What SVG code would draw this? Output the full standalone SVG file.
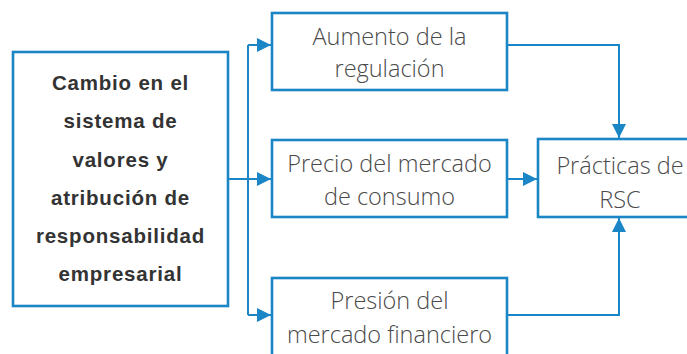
<svg xmlns="http://www.w3.org/2000/svg" width="687" height="354" viewBox="0 0 687 354">
<defs>
<style>
.box{fill:#fff;stroke:#1a86c5;stroke-width:2.6}
.c{fill:none;stroke:#1a86c5;stroke-width:2}
.b{font-family:"Liberation Sans",Arial,sans-serif;font-weight:bold;font-size:20.5px;fill:#333;text-anchor:middle;letter-spacing:0.8px}
.t{font-family:"Open Sans","Liberation Sans",sans-serif;font-size:23.5px;fill:#4a4a4a;text-anchor:middle;font-weight:300}
</style>
<marker id="ah" viewBox="0 0 10 10" refX="10" refY="5" markerWidth="14" markerHeight="14" markerUnits="userSpaceOnUse" orient="auto">
<path d="M0,0 L10,5 L0,10 z" fill="#1a86c5"/>
</marker>
</defs>
<rect width="687" height="354" fill="#fff"/>
<g id="connectors">
<path class="c" d="M228,179 H248"/>
<path class="c" d="M248,45 V315"/>
<path class="c" d="M248,45 H271" marker-end="url(#ah)"/>
<path class="c" d="M248,179 H271" marker-end="url(#ah)"/>
<path class="c" d="M248,315 H271" marker-end="url(#ah)"/>
<path class="c" d="M507,45 H619 V138" marker-end="url(#ah)"/>
<path class="c" d="M507,179 H537" marker-end="url(#ah)"/>
<path class="c" d="M507,315 H619 V218" marker-end="url(#ah)"/>
</g>
<g id="n-cambio">
<rect class="box" x="13" y="52" width="215" height="254"/>
<text class="b" x="120.5" y="90">Cambio en el</text>
<text class="b" x="120.5" y="128">sistema de</text>
<text class="b" x="120.5" y="167">valores y</text>
<text class="b" x="120.5" y="205">atribución de</text>
<text class="b" x="120.5" y="243">responsabilidad</text>
<text class="b" x="120.5" y="281">empresarial</text>
</g>
<g id="n-regulacion">
<rect class="box" x="272" y="13" width="235" height="77"/>
<text class="t" x="389.5" y="45">Aumento de la</text>
<text class="t" x="389.5" y="77">regulación</text>
</g>
<g id="n-consumo">
<rect class="box" x="272" y="140" width="235" height="77"/>
<text class="t" x="389.5" y="172">Precio del mercado</text>
<text class="t" x="389.5" y="205">de consumo</text>
</g>
<g id="n-financiero">
<rect class="box" x="272" y="278" width="235" height="90"/>
<text class="t" x="389.5" y="309">Presión del</text>
<text class="t" x="389.5" y="343">mercado financiero</text>
</g>
<g id="n-rsc">
<rect class="box" x="538" y="139" width="164" height="78"/>
<text class="t" x="620" y="174">Prácticas de</text>
<text class="t" x="620" y="208">RSC</text>
</g>
</svg>
